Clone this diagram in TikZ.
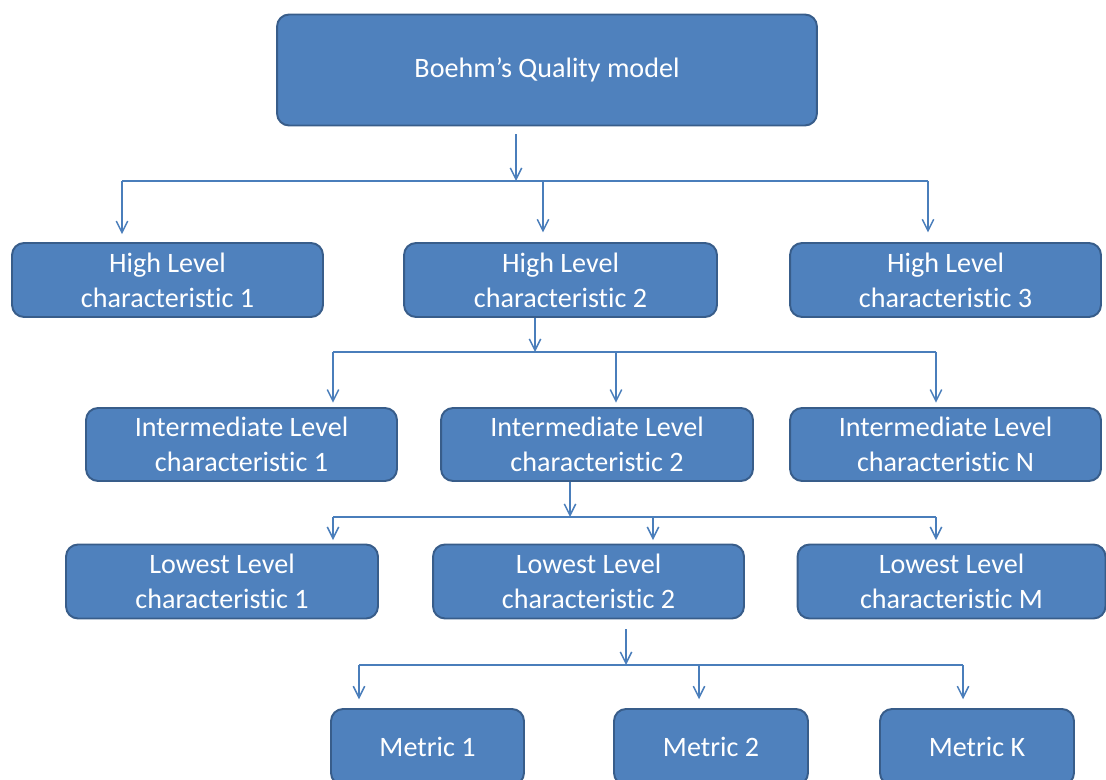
\documentclass[tikz,border=0pt]{standalone}
\usepackage{fontspec}
\setmainfont[Ligatures=NoCommon]{Carlito}
\usetikzlibrary{arrows.meta}
\definecolor{boxfill}{HTML}{4F81BD}
\definecolor{boxline}{HTML}{385D8A}
\definecolor{linkline}{HTML}{4A7EBB}
\tikzset{
  box/.style={draw=boxline, line width=1.1pt, fill=boxfill, rounded corners=0.24cm,
    text=white, align=center, inner sep=0pt, font=\fontsize{16}{19.8}\selectfont},
  link/.style={draw=linkline, line width=0.85pt},
  tip/.style={-{Straight Barb[length=6.5pt,width=6.5pt]}}
}

\begin{document}
\begin{tikzpicture}[x=0.02cm, y=-0.02cm]
\clip (0,0) rectangle (1106,780);
\node[box, minimum width=10.8cm, minimum height=2.22cm] (top) at (547,70) {Boehm’s Quality model};

\node[box, minimum width=6.22cm, minimum height=1.48cm] (h1) at (167.5,280) {High Level\\characteristic 1};
\node[box, minimum width=6.26cm, minimum height=1.48cm] (h2) at (560.5,280) {High Level\\characteristic 2};
\node[box, minimum width=6.22cm, minimum height=1.48cm] (h3) at (945.5,280) {High Level\\characteristic 3};

\node[box, minimum width=6.22cm, minimum height=1.46cm] (i1) at (241.5,444.5) {Intermediate Level\\characteristic 1};
\node[box, minimum width=6.24cm, minimum height=1.46cm] (i2) at (597,444.5) {Intermediate Level\\characteristic 2};
\node[box, minimum width=6.22cm, minimum height=1.46cm] (iN) at (945.5,444.5) {Intermediate Level\\characteristic N};

\node[box, minimum width=6.24cm, minimum height=1.48cm] (l1) at (222,581.5) {Lowest Level\\characteristic 1};
\node[box, minimum width=6.22cm, minimum height=1.48cm] (l2) at (588.5,581.5) {Lowest Level\\characteristic 2};
\node[box, minimum width=6.16cm, minimum height=1.48cm] (lM) at (951.5,581.5) {Lowest Level\\characteristic M};

\node[box, minimum width=3.86cm, minimum height=1.52cm] (m1) at (427.5,747) {Metric 1};
\node[box, minimum width=3.88cm, minimum height=1.52cm] (m2) at (711,747) {Metric 2};
\node[box, minimum width=3.88cm, minimum height=1.52cm] (mK) at (977,747) {Metric K};

% bus points
\coordinate (t0) at (516,181);
\coordinate (t1) at (122,181);
\coordinate (t2) at (543,181);
\coordinate (t3) at (928,181);
\coordinate (s0) at (535,352);
\coordinate (s1) at (333,352);
\coordinate (s2) at (616,352);
\coordinate (s3) at (936,352);
\coordinate (u0) at (570,517);
\coordinate (u1) at (333,517);
\coordinate (u2) at (653,517);
\coordinate (u3) at (936,517);
\coordinate (v0) at (626,665);
\coordinate (v1) at (359,665);
\coordinate (v2) at (699,665);
\coordinate (v3) at (963,665);

\path[link,tip,shorten <=4.5pt] (top.south -| t0) -- (t0);
\path[link] (t1) -- (t3);
\path[link,tip,shorten >=4.5pt] (t1) -- (t1 |- h1.north);
\path[link,tip,shorten >=5.5pt] (t2) -- (t2 |- h2.north);
\path[link,tip,shorten >=5.5pt] (t3) -- (t3 |- h3.north);

\path[link,tip] (h2.south -| s0) -- (s0);
\path[link] (s1) -- (s3);
\path[link,tip,shorten >=2.5pt] (s1) -- (s1 |- i1.north);
\path[link,tip,shorten >=2.5pt] (s2) -- (s2 |- i2.north);
\path[link,tip,shorten >=2.5pt] (s3) -- (s3 |- iN.north);

\path[link,tip] (i2.south -| u0) -- (u0);
\path[link] (u1) -- (u3);
\path[link,tip,shorten >=2pt] (u1) -- (u1 |- l1.north);
\path[link,tip,shorten >=2pt] (u2) -- (u2 |- l2.north);
\path[link,tip,shorten >=2pt] (u3) -- (u3 |- lM.north);

\path[link,tip,shorten <=5.5pt] (l2.south -| v0) -- (v0);
\path[link] (v1) -- (v3);
\path[link,tip,shorten >=5pt] (v1) -- (v1 |- m1.north);
\path[link,tip,shorten >=5pt] (v2) -- (v2 |- m2.north);
\path[link,tip,shorten >=5pt] (v3) -- (v3 |- mK.north);
\end{tikzpicture}
\end{document}
